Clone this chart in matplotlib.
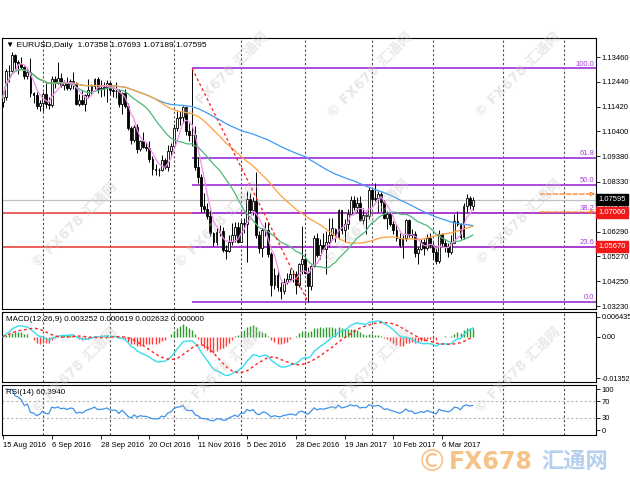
import numpy as np
import pandas as pd
import matplotlib
matplotlib.use('Agg')
import matplotlib.pyplot as plt
import matplotlib.transforms as mtrans

plt.rcParams['font.family'] = ['Liberation Sans', 'DejaVu Sans', 'Noto Sans CJK SC']

# EURUSD 日线 2016-08-15 ~ 2017-03-20 (每行一周)
open_ = [1.1160, 1.1181, 1.1290, 1.1289, 1.1353,
         1.1325, 1.1318, 1.1306, 1.1267, 1.1286,
         1.1197, 1.1189, 1.1143, 1.1157, 1.1196,
         1.1154, 1.1150, 1.1254, 1.1240, 1.1261,
         1.1232, 1.1243, 1.1220, 1.1246, 1.1240,
         1.1154, 1.1169, 1.1153, 1.1188, 1.1210,
         1.1227, 1.1254, 1.1216, 1.1217, 1.1222,
         1.1241, 1.1210, 1.1205, 1.1207, 1.1152,
         1.1199, 1.1144, 1.1056, 1.1004, 1.1057,
         1.0970, 1.1001, 1.0977, 1.0974, 1.0928,
         1.0884, 1.0880, 1.0880, 1.0922, 1.0895,
         1.0960, 1.0982, 1.1054, 1.1094, 1.1101,
         1.1142, 1.1042, 1.1024, 1.1026, 1.0896,
         1.0854, 1.0735, 1.0722, 1.0693, 1.0624,
         1.0588, 1.0629, 1.0632, 1.0555, 1.0548,
         1.0587, 1.0615, 1.0647, 1.0588, 1.0665,
         1.0662, 1.0762, 1.0718, 1.0756, 1.0616,
         1.0560, 1.0634, 1.0635, 1.0535, 1.0410,
         1.0449, 1.0400, 1.0386, 1.0423, 1.0436,
         1.0454, 1.0455, 1.0410, 1.0496,
         1.0517, 1.0458, 1.0404, 1.0489, 1.0604,
         1.0533, 1.0574, 1.0557, 1.0585, 1.0613,
         1.0640, 1.0605, 1.0717, 1.0634, 1.0661,
         1.0703, 1.0760, 1.0731, 1.0746, 1.0677,
         1.0697, 1.0691, 1.0799, 1.0763, 1.0767,
         1.0785, 1.0749, 1.0684, 1.0700, 1.0660,
         1.0637, 1.0602, 1.0575, 1.0602, 1.0677,
         1.0615, 1.0617, 1.0539, 1.0557, 1.0587,
         1.0562, 1.0604, 1.0574, 1.0545, 1.0506,
         1.0620, 1.0580, 1.0566, 1.0543, 1.0582,
         1.0671, 1.0658, 1.0605, 1.0734, 1.0766,
         1.07358]
high = [1.1190, 1.1298, 1.1315, 1.1366, 1.1360,
        1.1333, 1.1345, 1.1309, 1.1299, 1.1341,
        1.1203, 1.1202, 1.1170, 1.1203, 1.1240,
        1.1183, 1.1268, 1.1269, 1.1327, 1.1282,
        1.1251, 1.1262, 1.1257, 1.1283, 1.1245,
        1.1193, 1.1211, 1.1196, 1.1257, 1.1235,
        1.1259, 1.1264, 1.1251, 1.1244, 1.1250,
        1.1245, 1.1222, 1.1245, 1.1214, 1.1202,
        1.1213, 1.1158, 1.1063, 1.1068, 1.1070,
        1.1005, 1.1039, 1.0997, 1.1000, 1.0941,
        1.0906, 1.0892, 1.0944, 1.0932, 1.0985,
        1.0992, 1.1072, 1.1124, 1.1124, 1.1143,
        1.1143, 1.1075, 1.1299, 1.1064, 1.0934,
        1.0865, 1.0786, 1.0745, 1.0716, 1.0626,
        1.0643, 1.0654, 1.0646, 1.0573, 1.0616,
        1.0665, 1.0668, 1.0669, 1.0676, 1.0683,
        1.0796, 1.0788, 1.0772, 1.0874, 1.0630,
        1.0643, 1.0668, 1.0669, 1.0543, 1.0479,
        1.0474, 1.0421, 1.0440, 1.0459, 1.0476,
        1.0472, 1.0465, 1.0498, 1.0652,
        1.0541, 1.0485, 1.0492, 1.0615, 1.0622,
        1.0600, 1.0622, 1.0630, 1.0685, 1.0685,
        1.0642, 1.0720, 1.0717, 1.0682, 1.0720,
        1.0775, 1.0773, 1.0770, 1.0776, 1.0725,
        1.0707, 1.0811, 1.0808, 1.0829, 1.0796,
        1.0790, 1.0757, 1.0712, 1.0707, 1.0672,
        1.0658, 1.0625, 1.0613, 1.0679, 1.0682,
        1.0641, 1.0630, 1.0566, 1.0600, 1.0600,
        1.0619, 1.0621, 1.0587, 1.0562, 1.0634,
        1.0625, 1.0600, 1.0582, 1.0615, 1.0700,
        1.0714, 1.0665, 1.0746, 1.0783, 1.0776,
        1.07693]
low = [1.1140, 1.1170, 1.1242, 1.1280, 1.1297,
       1.1276, 1.1297, 1.1256, 1.1255, 1.1181,
       1.1159, 1.1133, 1.1123, 1.1123, 1.1135,
       1.1133, 1.1140, 1.1219, 1.1235, 1.1221,
       1.1212, 1.1211, 1.1212, 1.1214, 1.1150,
       1.1145, 1.1148, 1.1126, 1.1182, 1.1196,
       1.1213, 1.1199, 1.1180, 1.1184, 1.1160,
       1.1193, 1.1180, 1.1177, 1.1140, 1.1110,
       1.1138, 1.1047, 1.0990, 1.0998, 1.0953,
       1.0958, 1.0973, 1.0960, 1.0913, 1.0860,
       1.0860, 1.0859, 1.0876, 1.0887, 1.0876,
       1.0941, 1.0974, 1.1044, 1.1065, 1.1076,
       1.1026, 1.1000, 1.0980, 1.0883, 1.0828,
       1.0710, 1.0710, 1.0680, 1.0610, 1.0569,
       1.0572, 1.0610, 1.0546, 1.0518, 1.0546,
       1.0572, 1.0587, 1.0581, 1.0588, 1.0623,
       1.0505, 1.0707, 1.0698, 1.0601, 1.0541,
       1.0523, 1.0612, 1.0523, 1.0366, 1.0393,
       1.0383, 1.0352, 1.0373, 1.0415, 1.0428,
       1.0420, 1.0374, 1.0403, 1.0453,
       1.0453, 1.0340, 1.0389, 1.0485, 1.0524,
       1.0517, 1.0552, 1.0453, 1.0564, 1.0593,
       1.0585, 1.0600, 1.0617, 1.0588, 1.0638,
       1.0695, 1.0718, 1.0710, 1.0673, 1.0660,
       1.0619, 1.0680, 1.0738, 1.0755, 1.0710,
       1.0709, 1.0679, 1.0641, 1.0652, 1.0617,
       1.0590, 1.0566, 1.0521, 1.0590, 1.0605,
       1.0603, 1.0523, 1.0494, 1.0552, 1.0533,
       1.0552, 1.0563, 1.0517, 1.0494, 1.0500,
       1.0565, 1.0545, 1.0525, 1.0535, 1.0582,
       1.0652, 1.0600, 1.0598, 1.0710, 1.0722,
       1.07189]
close = [1.1181, 1.1290, 1.1289, 1.1353, 1.1325,
         1.1318, 1.1306, 1.1267, 1.1286, 1.1197,
         1.1189, 1.1143, 1.1157, 1.1196, 1.1154,
         1.1150, 1.1254, 1.1240, 1.1261, 1.1232,
         1.1243, 1.1220, 1.1246, 1.1240, 1.1154,
         1.1169, 1.1153, 1.1188, 1.1210, 1.1227,
         1.1254, 1.1216, 1.1217, 1.1222, 1.1241,
         1.1210, 1.1205, 1.1207, 1.1152, 1.1199,
         1.1144, 1.1056, 1.1004, 1.1057, 1.0970,
         1.1001, 1.0977, 1.0974, 1.0928, 1.0884,
         1.0880, 1.0880, 1.0922, 1.0895, 1.0960,
         1.0982, 1.1054, 1.1094, 1.1101, 1.1142,
         1.1042, 1.1024, 1.1026, 1.0896, 1.0854,
         1.0735, 1.0722, 1.0693, 1.0624, 1.0588,
         1.0629, 1.0632, 1.0555, 1.0548, 1.0587,
         1.0615, 1.0647, 1.0588, 1.0665, 1.0662,
         1.0762, 1.0718, 1.0756, 1.0616, 1.0560,
         1.0634, 1.0635, 1.0535, 1.0410, 1.0449,
         1.0400, 1.0386, 1.0423, 1.0436, 1.0454,
         1.0455, 1.0410, 1.0496, 1.0517,
         1.0458, 1.0404, 1.0489, 1.0604, 1.0533,
         1.0574, 1.0557, 1.0585, 1.0613, 1.0645,
         1.0605, 1.0717, 1.0634, 1.0661, 1.0703,
         1.0760, 1.0731, 1.0746, 1.0677, 1.0697,
         1.0691, 1.0799, 1.0763, 1.0767, 1.0785,
         1.0749, 1.0684, 1.0700, 1.0660, 1.0637,
         1.0602, 1.0575, 1.0602, 1.0677, 1.0615,
         1.0617, 1.0539, 1.0557, 1.0587, 1.0562,
         1.0604, 1.0574, 1.0545, 1.0506, 1.0620,
         1.0580, 1.0566, 1.0543, 1.0582, 1.0671,
         1.0658, 1.0605, 1.0734, 1.0766, 1.0739,
         1.07595]

first_day = '2016-08-15'
holidays = ['2016-12-26']
ma_periods = [100, 50, 20, 5]
ma_colors = ['#3d9df2', '#ffa03c', '#4cb97a', '#f08ef0']
fib_pct = [0.0, 23.6, 38.2, 50.0, 61.8, 100.0]
red_levels = [1.0706, 1.0567]
arrow_levels = [1.0783, 1.0709]
price_ticks = [1.13460, 1.12440, 1.11420, 1.10400, 1.09380, 1.08330,
               1.07310, 1.06290, 1.05270, 1.04250, 1.03230]
macd_ticks = [0.006435, 0.0, -0.013523]
macd_tick_labels = ['0.006435', '0.00', '-0.01352']
rsi_ticks = [100, 70, 30, 0]
header = '\u25bc EURUSD,Daily  1.07358 1.07693 1.07189 1.07595'
macd_title = 'MACD(12,26,9) 0.003252 0.000619 0.002632 0.000000'
rsi_title = 'RSI(14) 60.3940'

o, h, l, c = map(np.array, (open_, high, low, close))
n = len(c)
x = np.arange(n)
days = pd.bdate_range(first_day, '2017-05-31')
days = days[~days.isin(pd.to_datetime(holidays))]
month_start = [i for i in range(1, len(days)) if days[i].month != days[i - 1].month]
label_idx = list(range(0, n, 16))

W, H = 630, 490
fig = plt.figure(figsize=(W / 100, H / 100), dpi=100)


def rect(x0, y0, x1, y1):
    return [x0 / W, 1 - y1 / H, (x1 - x0) / W, (y1 - y0) / H]


ax = fig.add_axes(rect(2, 38, 596, 309))
axm = fig.add_axes(rect(2, 312, 596, 382), sharex=ax)
axr = fig.add_axes(rect(2, 385, 596, 435), sharex=ax)
xmax = (596 - 3) / 3.05
ax.set_xlim(-0.33, xmax)

for a in (ax, axm, axr):
    for sp in a.spines.values():
        sp.set_linewidth(0.8)
        sp.set_color('black')
    a.yaxis.tick_right()
    a.tick_params(axis='y', labelsize=5.5, length=3, width=0.6, pad=1)
    for m in month_start:
        a.axvline(m, color='#505050', lw=0.8, ls=(0, (2, 2)), zorder=1)

# 主图 K线
ax.set_ylim(1.03108, 1.14241)
ax.set_yticks(price_ticks)
ax.set_yticklabels(['%.5f' % p for p in price_ticks])
ax.tick_params(axis='x', bottom=False, labelbottom=False)

ax.axhline(c[-1], color='#c0c0c0', lw=0.9, zorder=1)
for lv in red_levels:
    ax.axhline(lv, color='#e8312f', lw=1.1, zorder=1)

i_hi = 40 + int(np.argmax(h[40:]))
i_lo = int(np.argmin(l))
fib_hi, fib_lo = h[i_hi], l[i_lo]
for p in fib_pct:
    lv = fib_lo + (fib_hi - fib_lo) * p / 100
    ax.hlines(lv, i_hi, xmax, color='#a43fdc', lw=1.3, zorder=2)
    ax.text(xmax - 0.6, lv + 0.0003, '%.1f' % p, color='#a43fdc', fontsize=5.5,
            ha='right', va='bottom', zorder=6)
ax.plot([i_hi, i_lo], [fib_hi, fib_lo], color='#ff2a2a', lw=1, ls=(0, (2, 2)), zorder=5)

up = c >= o
ax.vlines(x, l, h, color='black', lw=0.7, zorder=3)
ax.bar(x, np.maximum(np.abs(c - o), 0.00008), 0.62, np.minimum(o, c),
       color=np.where(up, 'white', 'black'), edgecolor='black', lw=0.6, zorder=3)

s = pd.Series(c)
for per, col in zip(ma_periods, ma_colors):
    ax.plot(x, s.rolling(per, min_periods=1).mean(), color=col, lw=0.9, zorder=4)

for lv in arrow_levels:
    ax.annotate('', xy=(xmax - 0.3, lv), xytext=(176, lv),
                arrowprops=dict(arrowstyle='->', color='#ff7a1a', lw=0.9, ls='--',
                                shrinkA=0, shrinkB=0, mutation_scale=6), zorder=6)

trans = mtrans.blended_transform_factory(ax.transAxes, ax.transData)
for lv, fc in [(c[-1], 'black'), (red_levels[0], '#f01818'), (red_levels[1], '#f01818')]:
    ax.text(1.004, lv, '%.5f' % lv, transform=trans, fontsize=5.5, color='white',
            ha='left', va='center', clip_on=False, zorder=10,
            bbox=dict(boxstyle='square,pad=0.25', fc=fc, ec=fc))

ax.text(0.006, 0.985, header, transform=ax.transAxes, fontsize=6, va='top', ha='left')

# MACD
ema12 = s.ewm(span=12, adjust=False).mean()
ema26 = s.ewm(span=26, adjust=False).mean()
macd = ema12 - ema26
signal = macd.rolling(9, min_periods=1).mean()
hist = macd - signal
axm.vlines(x, 0, hist, colors=np.where(hist >= 0, '#2f9a2f', '#ff3b3b'), lw=1, zorder=2)
axm.plot(x, macd, color='#38dcef', lw=1, zorder=3)
axm.plot(x, signal, color='#ff2020', lw=1, ls=(0, (2, 2)), zorder=3)
axm.set_ylim(-0.01483, 0.00807)
axm.set_yticks(macd_ticks)
axm.set_yticklabels(macd_tick_labels)
axm.tick_params(axis='y', labelsize=5.2)
axm.tick_params(axis='x', bottom=False, labelbottom=False)
axm.text(0.006, 0.95, macd_title, transform=axm.transAxes, fontsize=5.8, va='top')

# RSI
delta = s.diff()
gain = delta.clip(lower=0).ewm(alpha=1 / 14, adjust=True).mean()
loss = (-delta.clip(upper=0)).ewm(alpha=1 / 14, adjust=True).mean()
rsi = 100 * gain / (gain + loss)
axr.plot(x, rsi, color='#3f93ea', lw=0.9, zorder=3)
for lv in (70, 30):
    axr.axhline(lv, color='#b4b4b4', lw=0.8, ls=(0, (2, 2)), zorder=1)
axr.set_ylim(-12, 110)
axr.set_yticks(rsi_ticks)
axr.set_yticklabels([str(t) for t in rsi_ticks])
axr.text(0.006, 0.93, rsi_title, transform=axr.transAxes, fontsize=5.8, va='top')
axr.set_xticks(label_idx)
axr.set_xticklabels([days[i].strftime('%-d %b %Y') for i in label_idx], fontsize=5.5, ha='left')
axr.tick_params(axis='x', length=3, width=0.6, pad=2)

# 水印
wm_font = ['DejaVu Sans', 'Noto Sans CJK SC']
for cx, cy in [(226, 75), (370, 75), (518, 75), (75, 225), (218, 225),
               (367, 222), (519, 222), (75, 370), (222, 370), (370, 370), (518, 370)]:
    fig.text(cx / W, 1 - cy / H, '\u00a9 FX678 汇通网', rotation=45, fontsize=10,
             fontweight='bold', color='#c4c4c4', alpha=0.38, ha='center', va='center',
             family=wm_font, zorder=20)
fig.text(432 / W, 1 - 462 / H, '\u00a9', fontsize=22, color='#f5b36a', alpha=0.8,
         ha='center', va='center', family=wm_font)
fig.text(449 / W, 1 - 462 / H, 'FX678', fontsize=17, fontweight='bold', color='#f5b36a',
         alpha=0.8, ha='left', va='center', family=wm_font)
fig.text(541 / W, 1 - 462 / H, '汇通网', fontsize=16, fontweight='bold', color='#a3c5ea',
         alpha=0.8, ha='left', va='center', family=wm_font)

fig.savefig('out.png', dpi=100, facecolor='white')
